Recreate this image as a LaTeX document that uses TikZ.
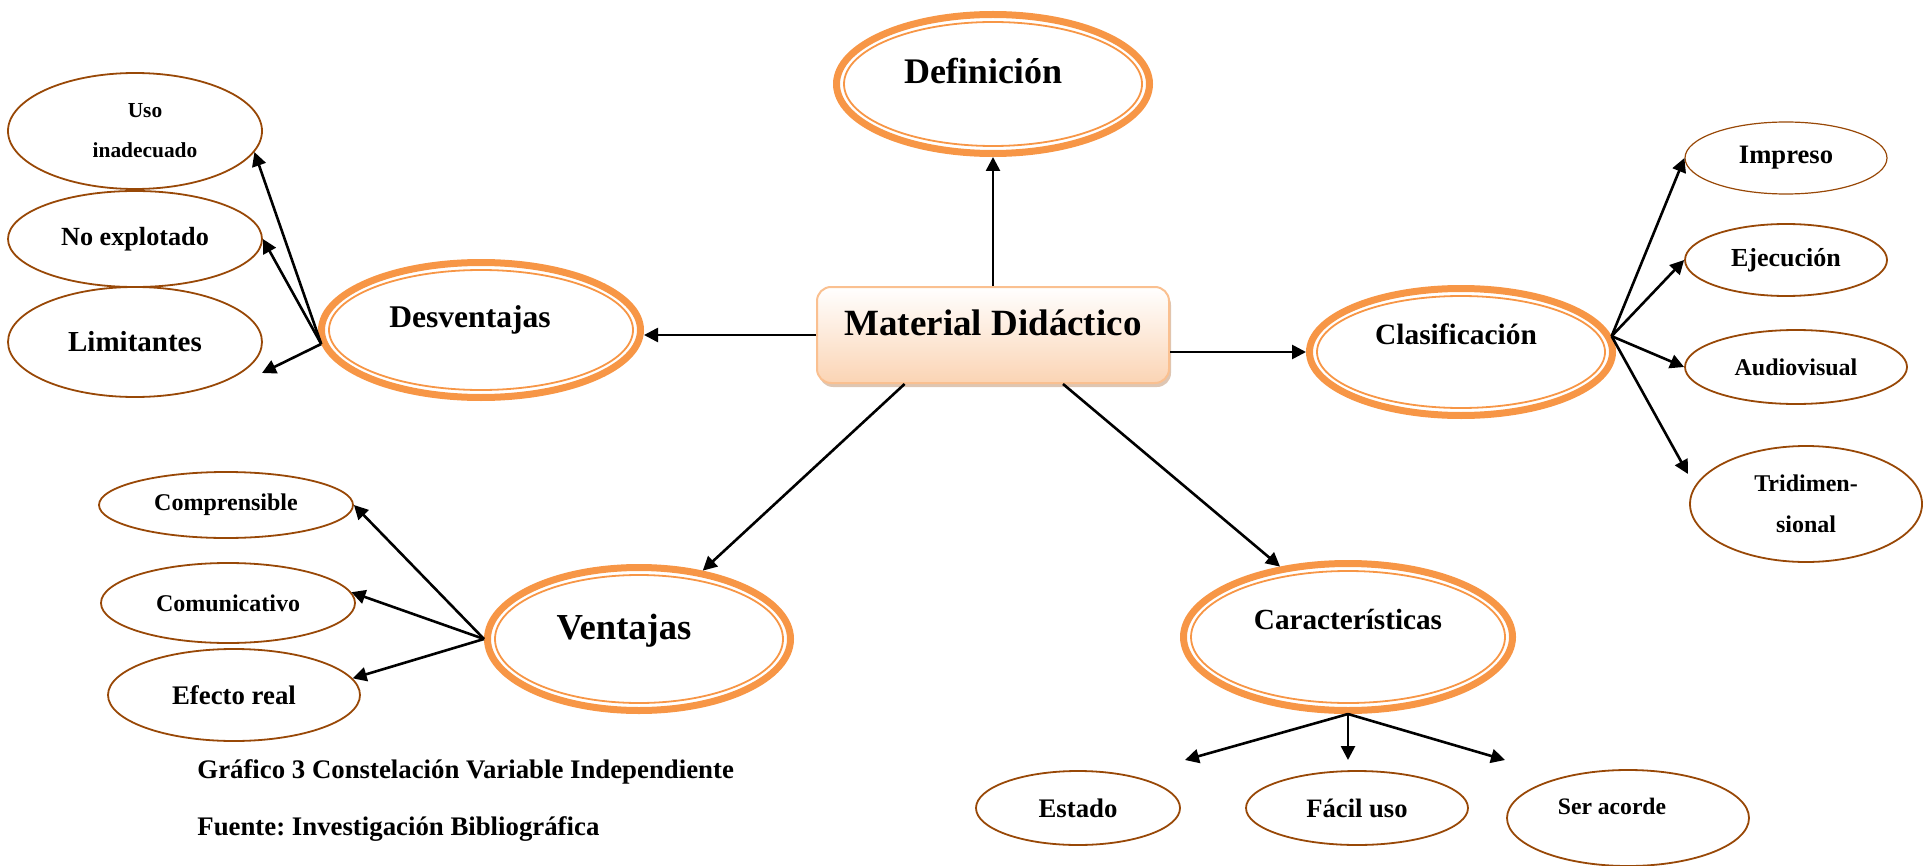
\documentclass[tikz,border=0pt]{standalone}
\usepackage{fontspec}
\setmainfont{Liberation Serif}
\usepackage{tikz}
\usetikzlibrary{shapes.geometric}
\usetikzlibrary{arrows.meta}
\usetikzlibrary{shadows}
\frenchspacing

\definecolor{naranja}{HTML}{F79646}
\definecolor{marron}{HTML}{984807}
\definecolor{durazno}{HTML}{FBD4B4}
\definecolor{borde}{HTML}{FAC090}
\definecolor{sombra}{HTML}{C8A080}

\newcommand{\negrita}[1]{\bfseries\fontsize{#1}{#1}\selectfont}

\tikzset{
  centro/.style={rectangle,rounded corners=7pt,draw=borde,line width=1pt,
    top color=white,bottom color=durazno,
    drop shadow={shadow xshift=1pt,shadow yshift=-2pt,fill=sombra,opacity=0.6},
    minimum width=176pt,minimum height=48pt,inner sep=0pt,
    text height=0pt,text depth=0pt},
  tema/.style={ellipse,draw=naranja,line width=3.5pt,inner sep=0pt,
    text height=0pt,text depth=0pt},
  hoja/.style={ellipse,draw=marron,line width=0.9pt,inner sep=0pt,align=center},
  flecha/.style={-{Triangle[length=7pt,width=7pt]},line width=1.3pt}
}

\begin{document}
\begin{tikzpicture}[x=0.5pt,y=-0.5pt]
  \useasboundingbox
    (0,0)
    rectangle
    (1931,866);
  \node[centro,font=\negrita{18.5}]
    (mat) at (993,335)
    {Material Didáctico};
  \node[tema,minimum width=156.5pt,minimum height=69.5pt,font=\negrita{18}]
    (def) at (993,84)
    {Definición\hspace*{10pt}};
  \node[tema,minimum width=159.5pt,minimum height=67.5pt,text depth=3pt,font=\negrita{15.8}]
    (des) at (481,330)
    {Desventajas\hspace*{11pt}};
  \node[tema,minimum width=151.5pt,minimum height=63.5pt,text depth=8pt,font=\negrita{14.7}]
    (cla) at (1461,352)
    {Clasificación\hspace*{5pt}};
  \node[tema,minimum width=151.5pt,minimum height=71.5pt,font=\negrita{18.3}]
    (ven) at (639,639)
    {Ventajas\hspace*{15pt}};
  \node[tema,minimum width=164.5pt,minimum height=73.5pt,text depth=8pt,font=\negrita{14.6}]
    (car) at (1348,637)
    {Características};
  \draw[naranja,line width=0.9pt]
    (def.center)
    ellipse [x radius=149,y radius=62];
  \draw[naranja,line width=0.9pt]
    (des.center)
    ellipse [x radius=152,y radius=60];
  \draw[naranja,line width=0.9pt]
    (cla.center)
    ellipse [x radius=144,y radius=56];
  \draw[naranja,line width=0.9pt]
    (ven.center)
    ellipse [x radius=144,y radius=64];
  \draw[naranja,line width=0.9pt]
    (car.center)
    ellipse [x radius=157,y radius=66];
  \node[hoja,minimum width=127pt,minimum height=58pt,font=\bfseries\fontsize{10.7}{20}\selectfont]
    (uso) at (135,131)
    {\hspace*{10pt}Uso\\\hspace*{10pt}inadecuado};
  \node[hoja,minimum width=127pt,minimum height=48pt,font=\negrita{13.1}]
    (noexp) at (135,239)
    {No explotado};
  \node[hoja,minimum width=127pt,minimum height=55pt,font=\negrita{14.5}]
    (lim) at (135,342)
    {Limitantes};
  \node[hoja,minimum width=101pt,minimum height=36pt,line width=0.6pt,font=\negrita{13.3}]
    (imp) at (1786,158)
    {Impreso};
  \node[hoja,minimum width=101pt,minimum height=36pt,font=\negrita{13}]
    (eje) at (1786,260)
    {Ejecución};
  \node[hoja,minimum width=111pt,minimum height=37pt,font=\negrita{12}]
    (aud) at (1796,367)
    {Audiovisual};
  \node[hoja,minimum width=116pt,minimum height=58pt,font=\bfseries\fontsize{12}{20.5}\selectfont]
    (tri) at (1806,504)
    {Tridimen-\\sional};
  \node[hoja,minimum width=127pt,minimum height=33pt,font=\negrita{12}]
    (compr) at (226,505)
    {Comprensible};
  \node[hoja,minimum width=127pt,minimum height=40pt,font=\negrita{12}]
    (comu) at (228,603)
    {Comunicativo};
  \node[hoja,minimum width=126pt,minimum height=46pt,font=\negrita{13.4}]
    (efe) at (234,695)
    {Efecto real};
  \node[hoja,minimum width=102pt,minimum height=37pt,font=\negrita{13.4}]
    (est) at (1078,808)
    {Estado};
  \node[hoja,minimum width=111pt,minimum height=37pt,font=\negrita{13.3}]
    (fac) at (1357,808)
    {Fácil uso};
  \node[hoja,minimum width=121pt,minimum height=48pt,text height=0pt,text depth=4pt,font=\negrita{11.8}]
    (ser) at (1628,818)
    {Ser acorde\hspace*{16pt}};
  \node[anchor=base west,inner sep=0pt,font=\negrita{13.4}]
    (graf) at (197,778)
    {Gráfico 3 Constelación Variable Independiente};
  \node[anchor=base west,inner sep=0pt,font=\negrita{13.4}]
    (fuente) at (197,835)
    {Fuente: Investigación Bibliográfica};
  \coordinate (plim) at (262,373);
  \coordinate (ptri) at (1688,474);
  \coordinate (pest) at (1185,760);
  \coordinate (pfac) at (1352,760);
  \coordinate (pser) at (1505,760);
  \draw[flecha]
    (mat.north)
    --
    (def.south);
  \draw[flecha]
    (mat.west)
    --
    (des.east |- mat.west);
  \draw[flecha]
    (mat.east |- cla.west)
    --
    (cla.west);
  \draw[flecha]
    (mat.209)
    --
    (ven.47);
  \draw[flecha]
    (mat.-35)
    --
    (car.134);
  \draw[flecha]
    (des.185)
    --
    (uso.-10);
  \draw[flecha]
    (des.185)
    --
    (noexp.east);
  \draw[flecha]
    (des.185)
    --
    (plim);
  \draw[flecha]
    (cla.6)
    --
    (imp.west);
  \draw[flecha]
    (cla.6)
    --
    (eje.west);
  \draw[flecha]
    (cla.6)
    --
    (aud.west);
  \draw[flecha]
    (cla.6)
    --
    (ptri);
  \draw[flecha]
    (ven.west)
    --
    (compr.east);
  \draw[flecha]
    (ven.west)
    --
    (comu.5);
  \draw[flecha]
    (ven.west)
    --
    (efe.8);
  \draw[flecha]
    (car.south)
    --
    (pest);
  \draw[flecha]
    (car.south)
    --
    (car.south |- pfac);
  \draw[flecha]
    (car.south)
    --
    (pser);
\end{tikzpicture}
\end{document}
